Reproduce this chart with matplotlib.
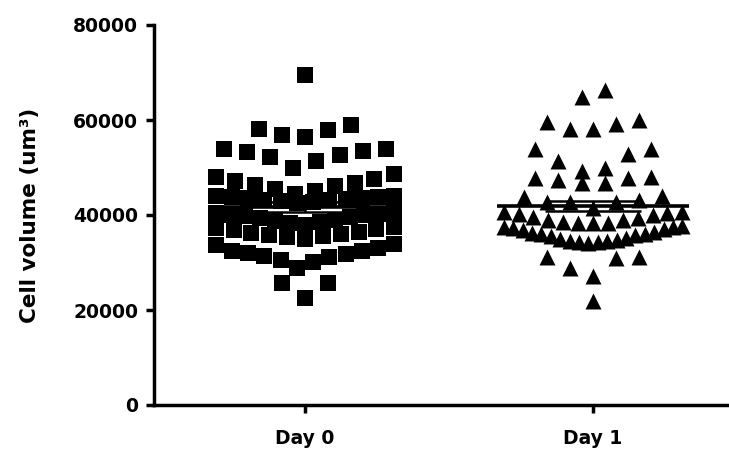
import numpy as np
import matplotlib.pyplot as plt

plt.rcParams['font.family'] = ['DejaVu Sans']
plt.rcParams['font.weight'] = 'bold'

groups = ["Day 0", "Day 1"]

# cell volumes (um^3)
day0 = [69500,
        58900, 57900, 56500, 56800, 58100,
        53900, 53500, 52600, 51400, 49950, 52300, 53300, 53900,
        48100, 47200, 46300, 45500, 44400, 45100, 46200, 46700, 47600, 48600,
        44000, 43900, 43700, 43500, 43200, 42900, 42600, 42800, 43100, 43400, 43600, 43800,
        40600, 40300, 39900, 39500, 39000, 38500, 38000, 38300, 38800, 39300, 39700, 40100, 40500,
        37400, 37000, 36500, 36000, 35500, 35000, 35300, 35800, 36300, 36800, 37200,
        34000, 32500, 31800, 31200, 30500, 30200, 28800, 31400, 32000, 32500, 33000, 33700,
        25700, 25700, 22500]
day1 = [66300, 64800,
        60100, 59600, 59200, 58200, 58100,
        54000, 53800, 52800, 51400, 50000, 49300,
        48100, 47700, 47700, 47400, 46700, 46700,
        44000, 43800, 43200, 42800, 42800, 42800, 41400,
        40700, 40600, 40500, 40300, 39900, 39600, 39300, 39000, 38900, 38600, 38400, 38300, 38300,
        37600, 37500, 37400, 37300, 37000, 36800, 36500, 36300, 36000, 35900, 35700, 35500,
        35200, 35000, 34800, 34600, 34500, 34400, 34300, 34200,
        31100, 31100, 30900, 28800, 27200,
        22000]

yticks = [0, 20000, 40000, 60000, 80000]
ytick_labels = ["0", "20000", "40000", "60000", "80000"]

# horizontal rows used to lay the points out side by side
row_edges = [20000, 27000, 34100, 37700, 40900, 44200, 49000, 55000, 62000, 80000]


def spread(values, center, step=0.08, half=0.31):
    values = np.asarray(values, dtype=float)
    x = np.empty(len(values))
    rows = np.digitize(values, row_edges)
    for r in np.unique(rows):
        idx = np.where(rows == r)[0]
        idx = idx[np.argsort(values[idx], kind='stable')]
        n = len(idx)
        s = step if n < 2 else min(step, 2 * half / (n - 1))
        slots = (np.arange(n) - (n - 1) / 2) * s
        order = np.argsort(np.abs(slots), kind='stable')
        x[idx] = center + slots[order]
    return x


fig = plt.figure(figsize=(7.29, 4.51), dpi=100)
ax = fig.add_axes([154 / 729, 46 / 451, 575 / 729, 380 / 451])

for i, (vals, mk) in enumerate([(day0, 's'), (day1, '^')]):
    xs = spread(vals, i)
    ax.scatter(xs, vals, marker=mk, s=11.5 ** 2, c='black', linewidths=0, zorder=2)
    v = np.asarray(vals, dtype=float)
    m = v.mean()
    sem = v.std(ddof=1) / np.sqrt(len(v))
    ax.hlines(m, i - 0.333, i + 0.333, color='black', lw=2.6, zorder=3)
    ax.hlines([m - sem, m + sem], i - 0.167, i + 0.167, color='black', lw=1.8, zorder=3)
    ax.vlines(i, m - sem, m + sem, color='black', lw=1.8, zorder=3)

ax.set_xlim(-0.524, 1.472)
ax.set_ylim(0, 80000)
ax.set_xticks([0, 1])
ax.set_xticklabels(groups, fontsize=13.5, fontweight='bold')
ax.set_yticks(yticks)
ax.set_yticklabels(ytick_labels, fontsize=13.5, fontweight='bold')

for side in ['top', 'right']:
    ax.spines[side].set_visible(False)
for side in ['left', 'bottom']:
    ax.spines[side].set_linewidth(2.5)
ax.tick_params(axis='y', length=5.5, width=2.5, pad=6)
ax.tick_params(axis='x', length=6, width=2.5, pad=11)

ax.set_ylabel("Cell volume (um³)", fontsize=15.5, fontweight='bold')
ax.yaxis.set_label_coords(-0.216, 0.5)
ax.yaxis.label.set_verticalalignment('center')

fig.savefig("out.png", dpi=100)
